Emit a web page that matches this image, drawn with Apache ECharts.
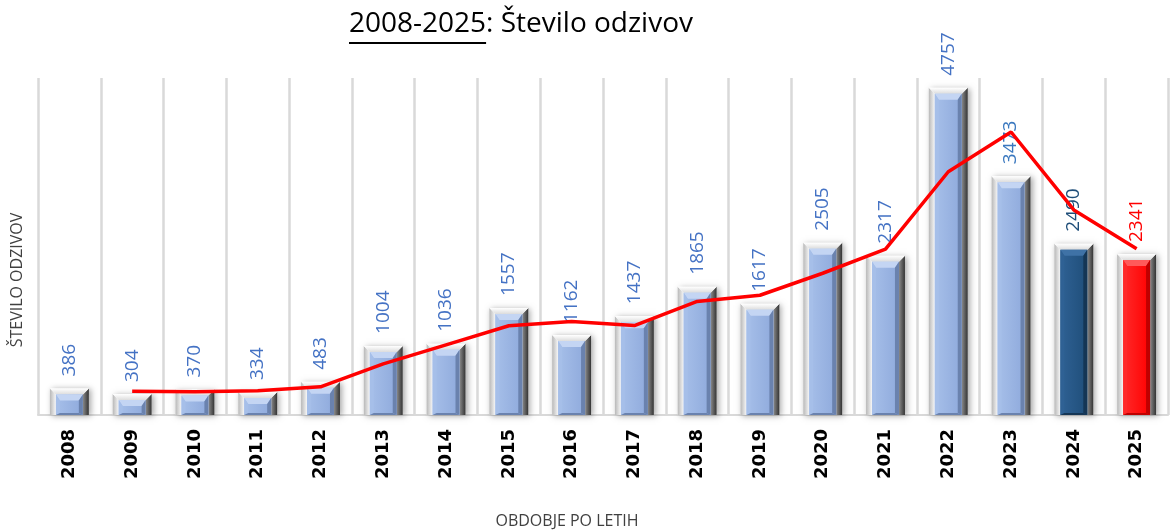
<!DOCTYPE html>
<html>
<head>
<meta charset="utf-8">
<script src="https://cdn.jsdelivr.net/npm/echarts@6/dist/echarts.min.js"></script>
<style>
  html, body { margin: 0; padding: 0; background: #ffffff; }
  #chart { width: 1175px; height: 530px; }
</style>
</head>
<body>
<div id="chart"></div>
<script>
// podatki
const years = ['2008', '2009', '2010', '2011', '2012', '2013', '2014', '2015', '2016',
  '2017', '2018', '2019', '2020', '2021', '2022', '2023', '2024', '2025'];
const responses = [386, 304, 370, 334, 483, 1004, 1036, 1557, 1162,
  1437, 1865, 1617, 2505, 2317, 4757, 3473, 2490, 2341];
// rdeča črta (trend), odčitano s slike
const trend = [null, 345, 337, 352, 409, 744, 1020, 1297, 1360,
  1300, 1651, 1741, 2061, 2411, 3537, 4115, 2982, 2416];
const yMax = 4900;

const titlePart1 = '2008-2025';
const titlePart2 = ': Število odzivov';

// barve stolpcev
const palettes = {
  default: { light: '#a6bfe9', base: '#8faadc', dark: '#6a82ae', top: '#c4d5f3', label: '#4472c4' },
  '2023': { light: '#a6bfe9', base: '#8faadc', dark: '#6a82ae', top: '#c4d5f3', label: '#3a78bf' },
  '2024': { light: '#2f6194', base: '#1f4e79', dark: '#153655', top: '#3f72a6', label: '#1f4e79' },
  '2025': { light: '#ff2a2a', base: '#ff0000', dark: '#bf0000', top: '#ff5a5a', label: '#ff0000' }
};

const chart = echarts.init(document.getElementById('chart'));

function lin(x, y, x2, y2, c1, c2) {
  return new echarts.graphic.LinearGradient(x, y, x2, y2, [
    { offset: 0, color: c1 }, { offset: 1, color: c2 }
  ]);
}
function poly(pts, fill) {
  return { type: 'polygon', shape: { points: pts }, style: { fill: fill } };
}

function renderBar(params, api) {
  const i = api.value(0);
  const top = api.coord([i, api.value(1)]);
  const base = api.coord([i, 0]);
  const w = api.size([1, 0])[0] * 0.62;
  const x0 = top[0] - w / 2, x1 = top[0] + w / 2;
  const y0 = top[1], y1 = base[1];
  const pal = palettes[years[i]] || palettes.default;
  const b = 6, b2 = 4;
  const fx0 = x0 + b, fx1 = x1 - b, fy0 = y0 + b;
  return {
    type: 'group',
    children: [
      // senca
      { type: 'rect', shape: { x: x0, y: y0, width: w, height: y1 - y0 },
        style: { fill: '#ffffff', shadowBlur: 6, shadowColor: 'rgba(0,0,0,0.35)', shadowOffsetX: 2, shadowOffsetY: 1 } },
      // okvir
      poly([[x0, y0], [x0 + b, y0 + b], [x0 + b, y1], [x0, y1]], lin(0, 0, 1, 0, '#b8b8b8', '#f7f7f7')),
      poly([[x1, y0], [x1 - b, y0 + b], [x1 - b, y1], [x1, y1]], lin(0, 0, 1, 0, '#8a8a8a', '#333333')),
      poly([[x0, y0], [x1, y0], [x1 - b, y0 + b], [x0 + b, y0 + b]], lin(0, 0, 0, 1, '#ffffff', '#dcdcdc')),
      // sprednja ploskev
      { type: 'rect', shape: { x: fx0, y: fy0, width: fx1 - fx0, height: y1 - fy0 },
        style: { fill: lin(0, 0, 1, 0, pal.light, pal.base) } },
      poly([[fx0, fy0], [fx1, fy0], [fx1 - b2, fy0 + b2 + 2], [fx0 + b2, fy0 + b2 + 2]], pal.top),
      poly([[fx0, fy0], [fx0 + b2, fy0 + b2 + 2], [fx0 + b2, y1 - 2], [fx0, y1]], pal.light),
      poly([[fx1, fy0], [fx1, y1], [fx1 - b2, y1 - 2], [fx1 - b2, fy0 + b2 + 2]], pal.dark),
      poly([[fx0, y1], [fx1, y1], [fx1 - b2, y1 - 2], [fx0 + b2, y1 - 2]], pal.dark),
      // oznaka vrednosti
      { type: 'text', x: top[0], y: y0 - 12, rotation: Math.PI / 2, z2: 10,
        style: { text: String(api.value(1)), fill: pal.label, align: 'left', verticalAlign: 'middle',
          font: '19px "Open Sans"' } }
    ]
  };
}

// naslov s podčrtanim delom
const titleFont = '28px "Open Sans"';
const ctx = document.createElement('canvas').getContext('2d');
ctx.font = titleFont;
const w1 = ctx.measureText(titlePart1).width;
const w2 = ctx.measureText(titlePart2).width;
const tx = 521 - (w1 + w2) / 2;

chart.setOption({
  backgroundColor: '#ffffff',
  animation: false,
  grid: { left: 38, right: 7, top: 78, bottom: 115 },
  xAxis: {
    type: 'category',
    data: years,
    axisTick: { show: false },
    axisLine: { lineStyle: { color: '#d9d9d9', width: 2 } },
    splitLine: { show: true, interval: 0, lineStyle: { color: '#d9d9d9', width: 2.5 } },
    axisLabel: {
      interval: 0, rotate: 90, margin: 14,
      fontFamily: 'DejaVu Sans', fontWeight: 'bold', fontSize: 18, color: '#000000'
    }
  },
  yAxis: {
    type: 'value', min: 0, max: yMax,
    axisLabel: { show: false }, axisLine: { show: false },
    axisTick: { show: false }, splitLine: { show: false }
  },
  series: [
    {
      type: 'custom',
      renderItem: renderBar,
      encode: { x: 0, y: 1 },
      data: responses.map(function (v, i) { return [i, v]; }),
      z: 2
    },
    {
      type: 'line',
      data: trend,
      symbol: 'none',
      lineStyle: { color: '#ff0000', width: 3.5 },
      z: 5
    }
  ],
  graphic: [
    { type: 'text', left: tx, top: 10,
      style: { text: titlePart1, font: titleFont, fill: '#000000' } },
    { type: 'line', shape: { x1: tx, y1: 43, x2: tx + w1, y2: 43 },
      style: { stroke: '#000000', lineWidth: 2 } },
    { type: 'text', left: tx + w1, top: 10,
      style: { text: titlePart2, font: titleFont, fill: '#000000' } },
    { type: 'text', x: 17, y: 280, rotation: Math.PI / 2,
      style: { text: 'ŠTEVILO ODZIVOV', font: '16px "Open Sans"', fill: '#404040',
        align: 'center', verticalAlign: 'middle' } },
    { type: 'text', x: 567, y: 521,
      style: { text: 'OBDOBJE PO LETIH', font: '16px "Open Sans"', fill: '#404040',
        align: 'center', verticalAlign: 'middle' } }
  ]
});
</script>
</body>
</html>
